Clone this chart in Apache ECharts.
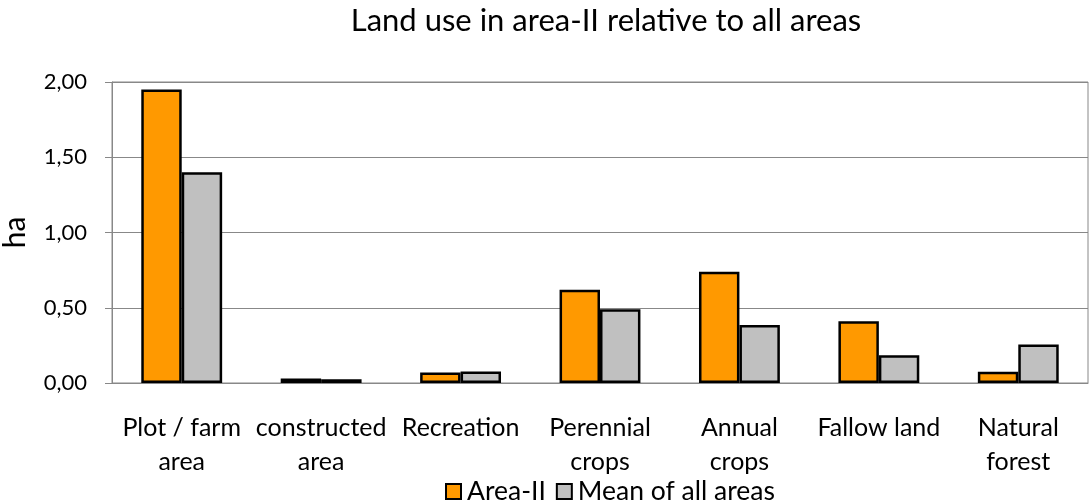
<!DOCTYPE html>
<html><head><meta charset="utf-8">
<script src="https://cdn.jsdelivr.net/npm/echarts@6/dist/echarts.min.js"></script>
<style>html,body{margin:0;padding:0;background:#fff}#c{width:1090px;height:504px}</style>
</head><body><div id="c"></div>
<script>
const categories = ["Plot / farm\narea", "constructed\narea", "Recreation", "Perennial\ncrops", "Annual\ncrops", "Fallow land", "Natural\nforest"];
const areaII = [1.95, 0.03, 0.07, 0.62, 0.74, 0.41, 0.075];
const meanAll = [1.40, 0.025, 0.077, 0.49, 0.385, 0.185, 0.255];
const yTicks = [0, 0.5, 1, 1.5, 2];
const FONT = 'Lato, "Open Sans", sans-serif';
const chart = echarts.init(document.getElementById('c'), null, {renderer: 'canvas'});
chart.setOption({
  animation: false,
  textStyle: {fontFamily: FONT},
  title: {text: 'Land use in area-II relative to all areas', left: 601, textAlign: 'center', top: 0,
    textStyle: {fontFamily: FONT, fontSize: 31, fontWeight: 'normal', color: '#000'}},
  legend: {bottom: -6, left: 440, itemWidth: 15, itemHeight: 15, itemGap: 10,
    textStyle: {fontFamily: FONT, fontSize: 26.5, color: '#000', padding: [0,0,0,1]},
    data: [{name: 'Area-II', icon: 'rect', itemStyle: {borderColor: '#000', borderWidth: 2}},
           {name: 'Mean of all areas', icon: 'rect', itemStyle: {borderColor: '#000', borderWidth: 2}}]},
  grid: {left: 112, right: 2, top: 82, bottom: 121, show: true, borderColor: '#888', borderWidth: 1, outerBoundsMode: 'none', containLabel: false},
  xAxis: {type: 'category', data: categories,
    axisLine: {lineStyle: {color: '#888', width: 1}},
    axisTick: {length: 6, lineStyle: {color: '#888'}},
    axisLabel: {fontFamily: FONT, fontSize: 25, color: '#000', lineHeight: 34, margin: 28, interval: 0}},
  yAxis: {type: 'value', min: 0, max: 2, interval: 0.5, name: 'ha', nameLocation: 'middle', nameGap: 82,
    nameTextStyle: {fontFamily: FONT, fontSize: 30, color: '#000'},
    axisLine: {show: true, lineStyle: {color: '#888'}},
    axisTick: {show: true, length: 7, lineStyle: {color: '#888'}},
    splitLine: {lineStyle: {color: '#888', width: 1}},
    axisLabel: {fontFamily: FONT, fontSize: 22, color: '#000', margin: 25,
      formatter: v => yTicks.includes(v) ? v.toFixed(2).replace('.', ',') : ''}},
  series: [
    {name: 'Area-II', type: 'bar', data: areaII, barGap: '0%', barCategoryGap: '42%',
      itemStyle: {color: '#FF9900', borderColor: '#000', borderWidth: 2.5}},
    {name: 'Mean of all areas', type: 'bar', data: meanAll,
      itemStyle: {color: '#C0C0C0', borderColor: '#000', borderWidth: 2.5}}
  ]
});
</script></body></html>
